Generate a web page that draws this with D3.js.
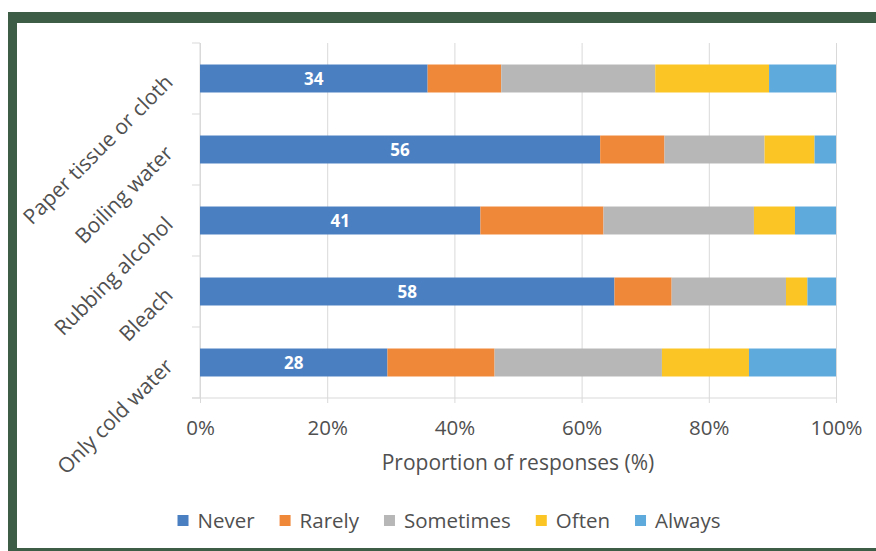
<!DOCTYPE html>
<html>
<head>
<meta charset="utf-8">
<script src="https://cdn.jsdelivr.net/npm/d3@7"></script>
<style>
  html, body { margin: 0; padding: 0; background: #ffffff; }
  svg { display: block; font-family: "Open Sans", sans-serif; }
</style>
</head>
<body>
<svg id="chart" width="876" height="551"></svg>
<script>
// ---- data (response counts; bars are shown as proportions) ----
const categories = ["Paper tissue or cloth", "Boiling water", "Rubbing alcohol", "Bleach", "Only cold water"];
const seriesNames = ["Never", "Rarely", "Sometimes", "Often", "Always"];
const never     = [34, 56, 41, 58, 28];
const rarely    = [11,  9, 18,  8, 16];
const sometimes = [23, 14, 22, 16, 25];
const often     = [17,  7,  6,  3, 13];
const always    = [10,  3,  6,  4, 13];
const xTicks = [0, 0.2, 0.4, 0.6, 0.8, 1.0];
const xTitle = "Proportion of responses (%)";
const colors = ["#4a7fc2", "#f0883a", "#b7b7b7", "#fbc526", "#5eaadd"];

const rows = categories.map((c, i) => ({
  category: c,
  Never: never[i], Rarely: rarely[i], Sometimes: sometimes[i], Often: often[i], Always: always[i]
}));

const svg = d3.select("#chart");
const W = 876, H = 551;

// frame
svg.append("rect").attr("x", 0).attr("y", 0).attr("width", W).attr("height", H).attr("fill", "#ffffff");
const frame = "#3e5d47";
svg.append("rect").attr("x", 8).attr("y", 12).attr("width", W - 8).attr("height", 11).attr("fill", frame);
svg.append("rect").attr("x", 8).attr("y", 12).attr("width", 9).attr("height", H - 12).attr("fill", frame);
svg.append("rect").attr("x", 8).attr("y", 548).attr("width", W - 8).attr("height", 3).attr("fill", frame);

const plot = { left: 200, right: 836, top: 43, bottom: 398 };

const x = d3.scaleLinear().domain([0, 1]).range([plot.left, plot.right]);
const y = d3.scaleBand().domain(categories).range([plot.top, plot.bottom])
  .paddingInner(0.606).paddingOuter(0.303);

const stack = d3.stack().keys(seriesNames).offset(d3.stackOffsetExpand);
const stacked = stack(rows);

const color = d3.scaleOrdinal().domain(seriesNames).range(colors);
const gridColor = "#d9d9d9";
const textColor = "#505050";

// gridlines + bottom ticks
const xAxisG = svg.append("g")
  .attr("transform", `translate(0,${plot.bottom})`)
  .call(d3.axisBottom(x).tickValues(xTicks).tickFormat(d3.format(".0%"))
    .tickSize(-(plot.bottom - plot.top)).tickSizeOuter(0));
xAxisG.select(".domain").remove();
xAxisG.selectAll(".tick line").attr("stroke", gridColor).attr("stroke-width", 1)
  .attr("y2", -(plot.bottom - plot.top)).attr("y1", 5);
xAxisG.selectAll(".tick text")
  .attr("y", 0).attr("dy", 0).attr("transform", "translate(0,37)")
  .attr("fill", textColor).attr("font-size", 20.5).attr("font-family", "Open Sans, sans-serif");

// left axis line and category boundary ticks
svg.append("line").attr("x1", plot.left).attr("x2", plot.left)
  .attr("y1", plot.top).attr("y2", plot.bottom).attr("stroke", gridColor);
svg.append("line").attr("x1", 192).attr("x2", plot.right)
  .attr("y1", plot.bottom).attr("y2", plot.bottom).attr("stroke", gridColor);
const bounds = categories.map(c => y(c) - y.step() * y.paddingInner() / 2).concat([plot.bottom]);
svg.append("g").selectAll("line").data(bounds).join("line")
  .attr("x1", 192).attr("x2", plot.left)
  .attr("y1", d => d).attr("y2", d => d).attr("stroke", gridColor);

// bars
svg.append("g").selectAll("g").data(stacked).join("g")
  .attr("fill", d => color(d.key))
  .selectAll("rect").data(d => d).join("rect")
  .attr("x", d => x(d[0]))
  .attr("width", d => x(d[1]) - x(d[0]))
  .attr("y", d => y(d.data.category))
  .attr("height", y.bandwidth());

// data labels on "Never"
const neverLayer = stacked[0];
svg.append("g").selectAll("text").data(neverLayer).join("text")
  .attr("x", d => (x(d[0]) + x(d[1])) / 2)
  .attr("y", d => y(d.data.category) + y.bandwidth() / 2)
  .attr("dy", "0.36em")
  .attr("text-anchor", "middle")
  .attr("fill", "#ffffff").attr("font-weight", 700).attr("font-size", 17)
  .text(d => d.data.Never);

// category labels rotated
svg.append("g").selectAll("text").data(categories).join("text")
  .attr("transform", c => `translate(169,${y(c) + y.bandwidth() / 2}) rotate(-45)`)
  .attr("text-anchor", "end")
  .attr("dy", "0.35em")
  .attr("fill", textColor).attr("font-size", 21)
  .text(c => c);

// x axis title
svg.append("text").attr("x", (plot.left + plot.right) / 2).attr("y", 470)
  .attr("text-anchor", "middle").attr("fill", textColor).attr("font-size", 21)
  .text(xTitle);

// legend
const legend = svg.append("g");
const items = legend.selectAll("g").data(seriesNames).join("g");
items.append("rect").attr("width", 11).attr("height", 11).attr("y", -6)
  .attr("fill", d => color(d));
items.append("text").attr("x", 20).attr("dy", "0.35em")
  .attr("fill", textColor).attr("font-size", 20.5).text(d => d);
let cx = 0;
const offsets = [];
const gap = 25;
items.each(function () {
  offsets.push(cx);
  const w = 20 + d3.select(this).select("text").node().getComputedTextLength();
  cx += w + gap;
});
const totalW = cx - gap;
items.attr("transform", (d, i) => `translate(${offsets[i]},0)`);
legend.attr("transform", `translate(${449 - totalW / 2},521)`);
</script>
</body>
</html>
